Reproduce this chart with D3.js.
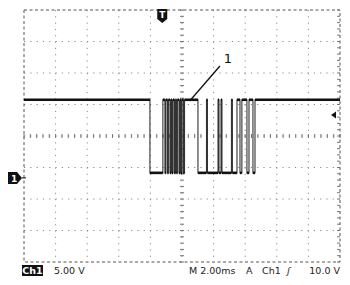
<!DOCTYPE html>
<meta charset="utf-8">
<style>
body { margin: 0; background: #fff; }
svg { display: block; font-family: "DejaVu Sans", Arial, sans-serif; }
.grid line { stroke: #8a8a8a; stroke-width: 1; stroke-dasharray: 1.2,5.1; }
.border { fill: none; stroke: #555; stroke-width: 1; stroke-dasharray: 3,2.5; }
.tick-mark { stroke: #777; stroke-width: 1; }
.trace-v { fill: none; stroke: #333; stroke-width: 1.1; }
.trace-h { stroke: #111; stroke-width: 2.6; }
.readout { font-size: 9.5px; fill: #222; }
</style>
<body>
<script src="https://cdn.jsdelivr.net/npm/d3@7"></script>
<script>

// scope settings
var timePerDiv = 2.00;          // ms
var voltsPerDiv = 5.00;         // V
var triggerTime = 0;            // ms
var triggerLevel = 10.0;        // V
var timeStart = -8.75;          // ms at left edge of screen
var groundDivFromBottom = 2.67; // position of ground marker

// signal levels (V)
var highLevel = 12.4;
var lowLevel = 0.8;

// times (ms) where the trace toggles, starting from the high level
var edgeTimes = [-0.78, 0.04, 0.17, 0.23, 0.33, 0.39, 0.49, 0.55, 0.61, 0.68,
  0.77, 0.84, 0.90, 0.96, 1.06, 1.12, 1.18, 1.25, 1.34, 1.41,
  2.26, 2.80, 2.86, 3.53, 3.59, 3.72, 3.78, 4.38, 4.44,
  4.73, 4.92, 5.04, 5.36, 5.49, 5.74, 5.87];

var width = 350, height = 285;
var plot = {left: 24, top: 10, right: 340, bottom: 262};

var svg = d3.select("body").append("svg")
    .attr("width", width)
    .attr("height", height);

var x = d3.scaleLinear()
    .domain([timeStart, timeStart + 10 * timePerDiv])
    .range([plot.left, plot.right]);

var vLow = -groundDivFromBottom * voltsPerDiv;
var y = d3.scaleLinear()
    .domain([vLow, vLow + 8 * voltsPerDiv])
    .range([plot.bottom, plot.top]);

var divW = (plot.right - plot.left) / 10,
    divH = (plot.bottom - plot.top) / 8;

// graticule
var grid = svg.append("g").attr("class", "grid");
d3.range(1, 10).forEach(function(i) {
  var gx = x(timeStart + i * timePerDiv);
  grid.append("line").attr("x1", gx).attr("x2", gx)
      .attr("y1", plot.top).attr("y2", plot.bottom);
});
d3.range(1, 8).forEach(function(i) {
  var gy = y(vLow + i * voltsPerDiv);
  grid.append("line").attr("x1", plot.left).attr("x2", plot.right)
      .attr("y1", gy).attr("y2", gy);
});

svg.append("rect").attr("class", "border")
    .attr("x", plot.left).attr("y", plot.top)
    .attr("width", plot.right - plot.left)
    .attr("height", plot.bottom - plot.top);

// minor ticks on center lines and side borders
var cx = (plot.left + plot.right) / 2, cy = (plot.top + plot.bottom) / 2;
var ticks = svg.append("g");
d3.range(0, 51).forEach(function(i) {
  var tx = plot.left + i * divW / 5;
  ticks.append("line").attr("class", "tick-mark")
      .attr("x1", tx).attr("x2", tx).attr("y1", cy - 2).attr("y2", cy + 2);
});
d3.range(0, 41).forEach(function(i) {
  var ty = plot.top + i * divH / 5;
  ticks.append("line").attr("class", "tick-mark")
      .attr("x1", cx - 2).attr("x2", cx + 2).attr("y1", ty).attr("y2", ty);
  ticks.append("line").attr("class", "tick-mark")
      .attr("x1", plot.right - 3).attr("x2", plot.right).attr("y1", ty).attr("y2", ty);
});

// build trace points
var pts = [];
var level = highLevel;
pts.push([x.domain()[0], level]);
edgeTimes.forEach(function(t) {
  pts.push([t, level]);
  level = level === highLevel ? lowLevel : highLevel;
  pts.push([t, level]);
});
pts.push([x.domain()[1], level]);

var line = d3.line()
    .x(function(d) { return x(d[0]); })
    .y(function(d) { return y(d[1]); });

svg.append("path").attr("class", "trace-v").attr("d", line(pts));

// flat parts are drawn heavier (noise on the real trace)
for (var i = 0; i < pts.length - 1; i += 2) {
  svg.append("line").attr("class", "trace-h")
      .attr("x1", x(pts[i][0])).attr("x2", x(pts[i + 1][0]))
      .attr("y1", y(pts[i][1])).attr("y2", y(pts[i][1]));
}

// annotation "1"
svg.append("line")
    .attr("x1", x(3.65)).attr("y1", 66)
    .attr("x2", x(1.75)).attr("y2", y(highLevel) + 1)
    .attr("stroke", "#111").attr("stroke-width", 1.3);
svg.append("text")
    .attr("x", x(3.9)).attr("y", 63)
    .attr("font-size", 13).attr("fill", "#111")
    .text("1");

// ground marker
var gy0 = y(0);
svg.append("path")
    .attr("d", "M8," + (gy0 - 6) + "H17L22," + gy0 + "L17," + (gy0 + 6) + "H8Z")
    .attr("fill", "#111");
svg.append("text").attr("x", 11).attr("y", gy0 + 4)
    .attr("font-size", 9).attr("font-weight", "bold").attr("fill", "#fff").text("1");
svg.append("line").attr("x1", 22).attr("x2", 26).attr("y1", gy0).attr("y2", gy0)
    .attr("stroke", "#111");

// trigger position marker
var tx0 = x(triggerTime);
svg.append("path")
    .attr("d", "M" + (tx0 - 5) + ",9H" + (tx0 + 5) + "V19L" + tx0 + ",23L" + (tx0 - 5) + ",19Z")
    .attr("fill", "#111");
svg.append("text").attr("x", tx0).attr("y", 18).attr("text-anchor", "middle")
    .attr("font-size", 9).attr("font-weight", "bold").attr("fill", "#fff").text("T");

// trigger level marker
var ty0 = y(triggerLevel);
svg.append("path")
    .attr("d", "M331," + ty0 + "L336," + (ty0 - 3.5) + "V" + (ty0 + 3.5) + "Z")
    .attr("fill", "#111");

// readouts
svg.append("rect").attr("x", 22).attr("y", 265).attr("width", 21).attr("height", 11).attr("fill", "#111");
svg.append("text").attr("class", "readout").attr("x", 32.5).attr("y", 274)
    .attr("text-anchor", "middle").style("fill", "#fff")
    .attr("font-weight", "bold").text("Ch1");
svg.append("text").attr("class", "readout").attr("x", 54).attr("y", 274)
    .text(voltsPerDiv.toFixed(2) + " V");
svg.append("text").attr("class", "readout").attr("x", 189).attr("y", 274)
    .text("M 2.00ms");
svg.append("text").attr("class", "readout").attr("x", 246).attr("y", 274).text("A");
svg.append("text").attr("class", "readout").attr("x", 262).attr("y", 274).text("Ch1");
svg.append("text").attr("class", "readout").attr("x", 287).attr("y", 274)
    .attr("font-style", "italic").text("\u0283");
svg.append("text").attr("class", "readout").attr("x", 340).attr("y", 274)
    .attr("text-anchor", "end").text(triggerLevel.toFixed(1) + " V");

</script>
</body>
